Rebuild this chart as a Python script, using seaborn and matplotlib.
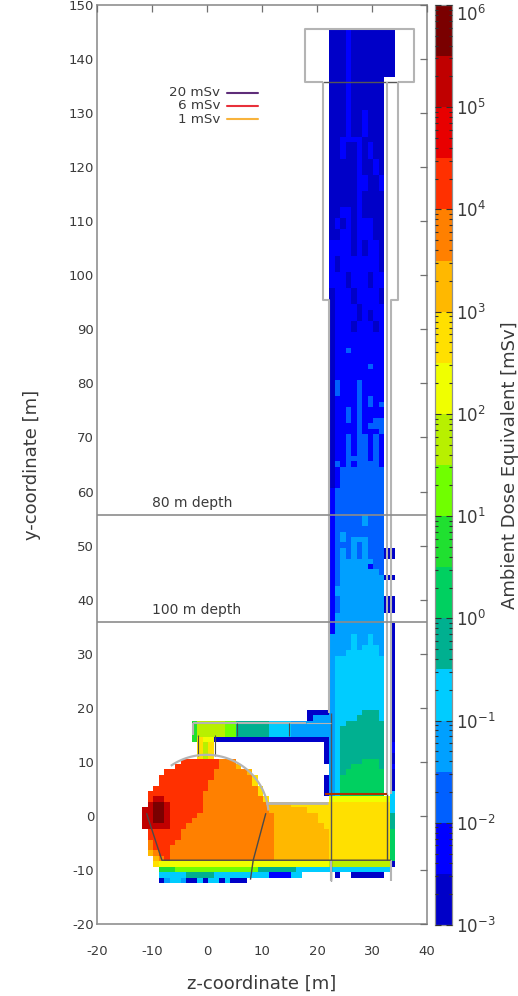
import numpy as np
import matplotlib
matplotlib.use("Agg")
import matplotlib.pyplot as plt
from matplotlib.colors import ListedColormap, LogNorm
from matplotlib.ticker import LogLocator
import seaborn as sns

# band colours, lowest dose first (two bands per decade, 1e-3 to 1e6 mSv)
BAND_COLORS = ["#0000c8", "#0000ff", "#0060ff", "#00a0ff", "#00ccff", "#00b090",
               "#00d060", "#20e030", "#70ff00", "#b8f000", "#f0ff00", "#ffe000",
               "#ffb800", "#ff8000", "#ff3000", "#e80000", "#c00000", "#7a0000"]
BAND_CODES = "0123456789abcdefgh"

# shaft cells, top to bottom: (rows, cells from z=22.2 to z=34.2)
SHAFT_RUNS = [
    (9, "000100000000"), (6, "0001000000.."), (5, "0001001000.."), (1, "0011110000.."),
    (3, "0010010100.."), (3, "0000010010.."), (3, "0000011001.."), (3, "0000010000.."),
    (2, "0011010000.."), (2, "0101011100.."), (2, "0011011100.."), (3, "1111010110.."),
    (3, "1011111110.."), (3, "1110111011.."), (3, "0111011110.."), (1, "0111101111.."),
    (2, "0111101011.."), (2, "0111011101.."), (3, "0111111111.."), (1, "0112111111.."),
    (2, "0111111111.."), (1, "0111111211.."), (2, "0111111111.."), (3, "0211121111.."),
    (1, "0111121211.."), (1, "0111121212.."), (2, "0112121111.."), (1, "0112121122.."),
    (1, "0111121222.."), (1, "0111121112.."), (4, "0112122121.."), (1, "0112222121.."),
    (1, "0212122221.."), (4, "0122222222.."), (5, "1222222222.."), (2, "1222223222.."),
    (1, "1222222222.."), (1, "1232222222.."), (1, "1232333222.."), (1, "1222323222.."),
    (2, "123232322200"), (1, "1233333322.."), (1, "1233333122.."), (1, "1233333332.."),
    (1, "123333333300"), (1, "1233333333.."), (2, "1333333333.."), (3, "123333333300"),
    (2, "1333333333.."), (2, "1333333333.0"), (2, "3333433433.0"), (1, "3333434443.0"),
    (1, "3334444443.0"), (10, "3444444444.0"),
]

# cavern, gallery and tunnel cells, y=19.6 down to y=-12.4, z=-13.8 to z=34.2
LOWER_ROWS = [
    "................................0000" + "3444445554.0",
    "................................0333" + "3444455554.0",
    "...........7" "99999" "88" "555555" "4444" "3333333" + "3445555555.0",
    "...........7" "99999" "88" "555555" "4444" "3333333" + "3455555555.0",
    "...........7" "99999" "88" "555555" "4444" "3333333" + "3455555555.0",
    "...........7" "baa" + "0" * 21 + "3455555555.0",
    "............" "b9b" + "." * 20 + "0" + "3455555555.1",
    "............" "b9b" + "." * 20 + "0" + "3455555555.1",
    "............" "b9b" + "." * 20 + "0" + "3455555555.0",
    "........." "eeeeeee" "ddd" + "." * 16 + "0" + "3455556665.0",
    "........" "eeeeeeee" "dddc" + "." * 16 + "3455666665.1",
    "......" "eeeeeeeee" "dddddd" "c" + "." * 14 + "3456666666.0",
    "....." "eeeeeeeeee" "ddddddd" "b" + "." * 12 + "0" + "3466666666.0",
    "....." "eeeeeeeee" "dddddddd" "b" + "." * 12 + "0" + "3466666666.0",
    "...." "eeeeeeeeee" "ddddddddd" "b" + "." * 11 + "0" + "3466666666.0",
    "..." "eeeeeeeeee" "dddddddddd" "b" + "." * 11 + "0" + "3466666666.4",
    "..." "e" "gg" "eeeeeee" "ddddddddddd" "b" + "." * 11 + "aaaaaaaaaaa4",
    "..." "g" "hh" "g" "eeeeee" + "d" * 12 + "cccc" "bbbbbbb" + "bbbbbbbbbbb4",
    ".." "gg" "hh" "g" "eeeeee" + "d" * 12 + "ccccccc" "bbbb" + "bbbbbbbbbbb4",
    ".." "gg" "hh" "g" "eeeee" + "d" * 14 + "cccccccc" "bb" + "bbbbbbbbbbb5",
    ".." "gg" "hh" "g" "eeee" + "d" * 15 + "cccccccc" "bb" + "bbbbbbbbbbb5",
    ".." "ggggg" "eee" + "d" * 16 + "ccccccccc" "b" + "bbbbbbbbbbb5",
    "..." "eeeeee" + "d" * 17 + "c" * 10 + "bbbbbbbbbbb6",
    "..." "eeeeee" + "d" * 17 + "c" * 10 + "bbbbbbbbbbb6",
    "..." "d" "eeee" + "d" * 18 + "c" * 10 + "bbbbbbbbbbb6",
    "..." "d" "eee" + "d" * 19 + "c" * 10 + "bbbbbbbbbbb6",
    "..." "c" "d" "ee" + "d" * 19 + "c" * 10 + "bbbbbbbbbbb6",
    "...." "c" "d" "e" + "d" * 19 + "c" * 10 + "bbbbbbbbbbb6",
    "...." "b" + "a" * 31 + "999999999990",
    "....." "777" + "8" * 15 + "5555555" "444444" + "44444444444.",
    "....." "44444" "55555" + "4" * 10 + "1111" "44" "....." + ".0..000000..",
    "....." "0344300404404000" + "." * 27,
]

DEPTH_Y = [55.6, 35.8]
DEPTH_LABELS = ["80 m depth", "100 m depth"]
LEGEND_LABELS = ["20 mSv", "6 mSv", "1 mSv"]
LEGEND_COLORS = ["#5e2d79", "#e8303a", "#f8b33c"]
LEGEND_Y = [133.8, 131.4, 128.9]
X_TICKS = [-20, -10, 0, 10, 20, 30, 40]
Y_TICKS = list(range(-20, 151, 10))
CBAR_TICKS = [1e-3, 1e-2, 1e-1, 1e0, 1e1, 1e2, 1e3, 1e4, 1e5, 1e6]

Z0 = -13.8
Y0 = -12.4
GRAY = "#b4b4b4"
DARK = "#4a4a4a"
TEXT = "#3a3a3a"


def hx(z):
    return np.asarray(z, dtype=float) - Z0


def hy(y):
    return np.asarray(y, dtype=float) - Y0


def build_grid():
    rows = []
    for count, cells in SHAFT_RUNS:
        rows += ["." * 36 + cells] * count
    rows += LOWER_ROWS
    for r in rows:
        assert len(r) == 48, (r, len(r))
    grid = np.full((len(rows), 48), np.nan)
    for i, r in enumerate(rows):
        for j, c in enumerate(r):
            if c != ".":
                # dose in the middle of the band
                grid[i, j] = 10 ** (-3 + (BAND_CODES.index(c) + 0.5) / 2)
    return grid[::-1]


sns.set_theme(style="white")
plt.rcParams["font.family"] = ["DejaVu Sans"]
plt.rcParams["axes.unicode_minus"] = False

W, H = 518, 996
fig = plt.figure(figsize=(W / 100, H / 100), dpi=100)
ax = fig.add_axes([97 / W, 1 - 924 / H, 330 / W, 919 / H])
cax = fig.add_axes([435 / W, 1 - 925 / H, 17 / W, 920 / H])

sns.heatmap(build_grid(), ax=ax, cbar_ax=cax, cmap=ListedColormap(BAND_COLORS),
            norm=LogNorm(1e-3, 1e6), xticklabels=False, yticklabels=False)

ax.set_xlim(hx(-20), hx(40))
ax.set_ylim(hy(-20), hy(150))
ax.set_axisbelow(False)
cax.set_axisbelow(False)


# cavern geometry
def seg(zs, ys, color=DARK, lw=1.0):
    ax.plot(hx(zs), hy(ys), color=color, lw=lw, solid_capstyle="butt", zorder=3)


# top hall and shaft walls
seg([21.1, 17.8, 17.8, 37.6, 37.6, 34.7], [135.8, 135.8, 145.6, 145.6, 135.8, 135.8], GRAY, 1.5)
seg([21.1, 34.7], [135.8, 135.8], "#555555", 1.0)
seg([21.1, 21.1, 22.2, 22.2], [135.8, 95.5, 95.5, 19], GRAY, 1.5)
seg([34.7, 34.7, 33.4, 33.4], [135.8, 95.5, 95.5, 4], GRAY, 1.5)
seg([32.7, 32.7], [135.8, 4], GRAY, 1.5)
seg([22.5, 22.5], [19, -12], "#555555", 1.0)
seg([33.4, 33.4], [-8.2, -12], GRAY, 1.5)
seg([22.5, 22.5], [-8.2, -12], GRAY, 1.5)

# gallery and access shaft
seg([-2.5, 18.0], [17.2, 17.2], GRAY, 1.5)
seg([-2.5, -2.5], [17.2, 15], GRAY, 1.5)
seg([18.0, 22.5], [17.2, 17.2], GRAY, 0.8)
seg([5.4, 5.4], [17.2, 14.8], DARK, 0.8)
seg([14.9, 14.9], [17.2, 14.8], DARK, 0.8)
seg([-1.6, -1.6], [15, 11], DARK, 0.8)
seg([1.5, 1.5], [15, 11], DARK, 0.8)

# dome outline
theta = np.radians(np.linspace(5, 125, 80))
seg(-0.1 + 11.3 * np.cos(theta), 11.3 * np.sin(theta), GRAY, 1.6)
seg([10.7, 22.0], [2.4, 2.4], GRAY, 2.0)
seg([-11.0, -8.2, 33.4], [0.5, -8.2, -8.2], DARK, 1.0)
seg([10.7, 8.4, 7.9], [0.5, -8.2, -11.8], DARK, 1.0)
seg([32.7, 32.7], [4, -8.2], DARK, 1.0)
seg([21.5, 32.7], [4, 4], "#b03000", 1.5)

for y, label in zip(DEPTH_Y, DEPTH_LABELS):
    ax.plot(hx([-20, 40]), hy([y, y]), color="#8c8c8c", lw=1.2, zorder=3)
    ax.text(hx(-10), hy(y + 0.9), label, fontsize=10, color=TEXT, va="bottom")

for y, label, color in zip(LEGEND_Y, LEGEND_LABELS, LEGEND_COLORS):
    ax.plot(hx([3.6, 9.2]), hy([y, y]), color=color, lw=1.5, zorder=3)
    ax.text(hx(2.4), hy(y), label, fontsize=9.7, color=TEXT, ha="right", va="center")

ax.set_xticks(hx(X_TICKS))
ax.set_xticklabels([str(v) for v in X_TICKS], rotation=0)
ax.set_yticks(hy(Y_TICKS))
ax.set_yticklabels([str(v) for v in Y_TICKS], rotation=0)
ax.tick_params(direction="in", top=True, right=True, length=5, width=0.9,
               color="#707070", labelcolor=TEXT, labelsize=9.5, pad=2)
ax.tick_params(axis="x", pad=15)
for spine in ax.spines.values():
    spine.set_visible(True)
    spine.set_color("#909090")
    spine.set_linewidth(1.2)

ax.set_xlabel("z-coordinate [m]", fontsize=13, color=TEXT, labelpad=12)
ax.set_ylabel("y-coordinate [m]", fontsize=13, color=TEXT, labelpad=20)

cax.set_yticks(CBAR_TICKS)
cax.yaxis.set_minor_locator(LogLocator(base=10, subs=np.arange(2, 10), numticks=12))
cax.tick_params(which="both", direction="in", left=True, right=True, color="#303030", width=0.8)
cax.tick_params(which="major", length=4, labelsize=12, labelcolor=TEXT, pad=3)
cax.tick_params(which="minor", length=2.5, labelright=False)
# keep the top decade label inside the picture
cax.get_yticklabels()[-1].set_verticalalignment("top")
for spine in cax.spines.values():
    spine.set_visible(True)
    spine.set_color("#909090")
    spine.set_linewidth(0.8)
fig.text(510 / W, 1 - 465 / H, "Ambient Dose Equivalent [mSv]", rotation=90,
         fontsize=13, color=TEXT, ha="center", va="center")

fig.savefig("out.png", dpi=100)
